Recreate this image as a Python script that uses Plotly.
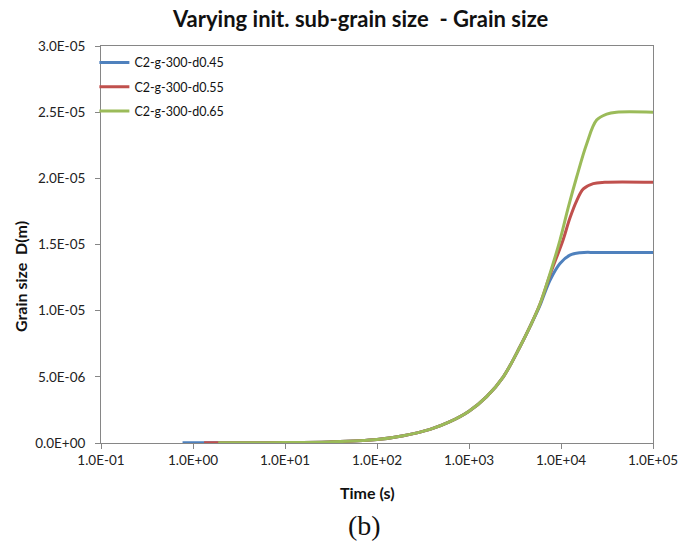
import plotly.graph_objects as go

series_names = ["C2-g-300-d0.45", "C2-g-300-d0.55", "C2-g-300-d0.65"]
colors = ["#4F81BD", "#C0504D", "#9BBB59"]

t_045 = [0.77, 1, 3, 10, 30, 100, 193, 377, 621, 1000, 1556, 2360, 3580, 4600, 5910, 6380, 7590, 9750, 12500, 16100, 25000, 100000]
D_045 = [1e-8, 1e-8, 2e-8, 3e-8, 8e-8, 2.6e-7, 5.5e-7, 1.03e-6, 1.61e-6, 2.4e-6, 3.5e-6, 5.0e-6, 7.27e-6, 8.79e-6, 1.04e-5, 1.1e-5, 1.23e-5, 1.357e-5, 1.42e-5, 1.438e-5, 1.44e-5, 1.44e-5]

t_055 = [1.32, 3, 10, 30, 100, 193, 377, 621, 1000, 1556, 2360, 3580, 4600, 5910, 7590, 9750, 10600, 12500, 14800, 17500, 22400, 30000, 100000]
D_055 = [1e-8, 2e-8, 3e-8, 8e-8, 2.6e-7, 5.5e-7, 1.03e-6, 1.61e-6, 2.4e-6, 3.5e-6, 5.0e-6, 7.27e-6, 8.79e-6, 1.05e-5, 1.27e-5, 1.47e-5, 1.54e-5, 1.7e-5, 1.83e-5, 1.92e-5, 1.96e-5, 1.97e-5, 1.97e-5]

t_065 = [1.88, 3, 10, 30, 100, 193, 377, 621, 1000, 1556, 2360, 3580, 4600, 5910, 7590, 9750, 12000, 14800, 19000, 24400, 31400, 40000, 100000]
D_065 = [1e-8, 2e-8, 3e-8, 8e-8, 2.6e-7, 5.5e-7, 1.03e-6, 1.61e-6, 2.4e-6, 3.5e-6, 5.0e-6, 7.27e-6, 8.79e-6, 1.05e-5, 1.28e-5, 1.533e-5, 1.78e-5, 2.01e-5, 2.26e-5, 2.44e-5, 2.485e-5, 2.5e-5, 2.5e-5]

x_tickvals = [0.1, 1, 10, 100, 1000, 10000, 100000]
x_ticktext = ["1.0E-01", "1.0E+00", "1.0E+01", "1.0E+02", "1.0E+03", "1.0E+04", "1.0E+05"]
y_tickvals = [0, 5e-6, 1e-5, 1.5e-5, 2e-5, 2.5e-5, 3e-5]
y_ticktext = ["0.0E+00", "5.0E-06", "1.0E-05", "1.5E-05", "2.0E-05", "2.5E-05", "3.0E-05"]

FONT = "Lato"
fig = go.Figure()
for name, c, t, d in zip(series_names, colors, [t_045, t_055, t_065], [D_045, D_055, D_065]):
    fig.add_trace(go.Scatter(x=t, y=d, mode="lines", name=name, legendgroup=name,
                             line=dict(color=c, width=3, shape="spline", smoothing=1.0)))

axis_common = dict(showline=True, linecolor="#868686", linewidth=1, mirror=True,
                   ticks="outside", ticklen=5, tickcolor="#868686", showgrid=False,
                   zeroline=False, tickfont=dict(family=FONT, size=13.5, color="#222"))

L, R, T, B, W, H = 101, 26, 46, 107, 679, 550
pw = W - L - R
ph = H - T - B


def px(x):
    return (x - L) / pw


def py(y):
    return (H - B - y) / ph


fig.update_layout(
    width=W, height=H,
    margin=dict(l=L, r=R, t=T, b=B, autoexpand=False),
    paper_bgcolor="white", plot_bgcolor="white",
    showlegend=True,
    legend=dict(x=-0.012, y=0.995, xanchor="left", yanchor="top",
                font=dict(family=FONT, size=12.5, color="#111"),
                bgcolor="rgba(0,0,0,0)", tracegroupgap=5, traceorder="grouped"),
    xaxis=dict(type="log", range=[-1, 5], tickvals=x_tickvals, ticktext=x_ticktext, **axis_common),
    yaxis=dict(range=[0, 3e-5], tickvals=y_tickvals, ticktext=y_ticktext, ticklabelstandoff=7,
               **axis_common),
    annotations=[
        dict(text="<b>Varying init. sub-grain size  - Grain size</b>", x=px(360), y=py(18),
             font=dict(family=FONT, size=22, color="#111")),
        dict(text="<b>Time (s)</b>", x=px(367), y=py(492), font=dict(family=FONT, size=16, color="#111")),
        dict(text="<b>Grain size  D(m)</b>", x=px(20), y=py(276), textangle=-90,
             font=dict(family=FONT, size=16, color="#111")),
        dict(text="(b)", x=px(364), y=py(525), font=dict(family="Liberation Serif", size=28, color="#111")),
    ],
)
fig.update_annotations(xref="paper", yref="paper", showarrow=False, xanchor="center", yanchor="middle")

fig.write_html("out.html")
